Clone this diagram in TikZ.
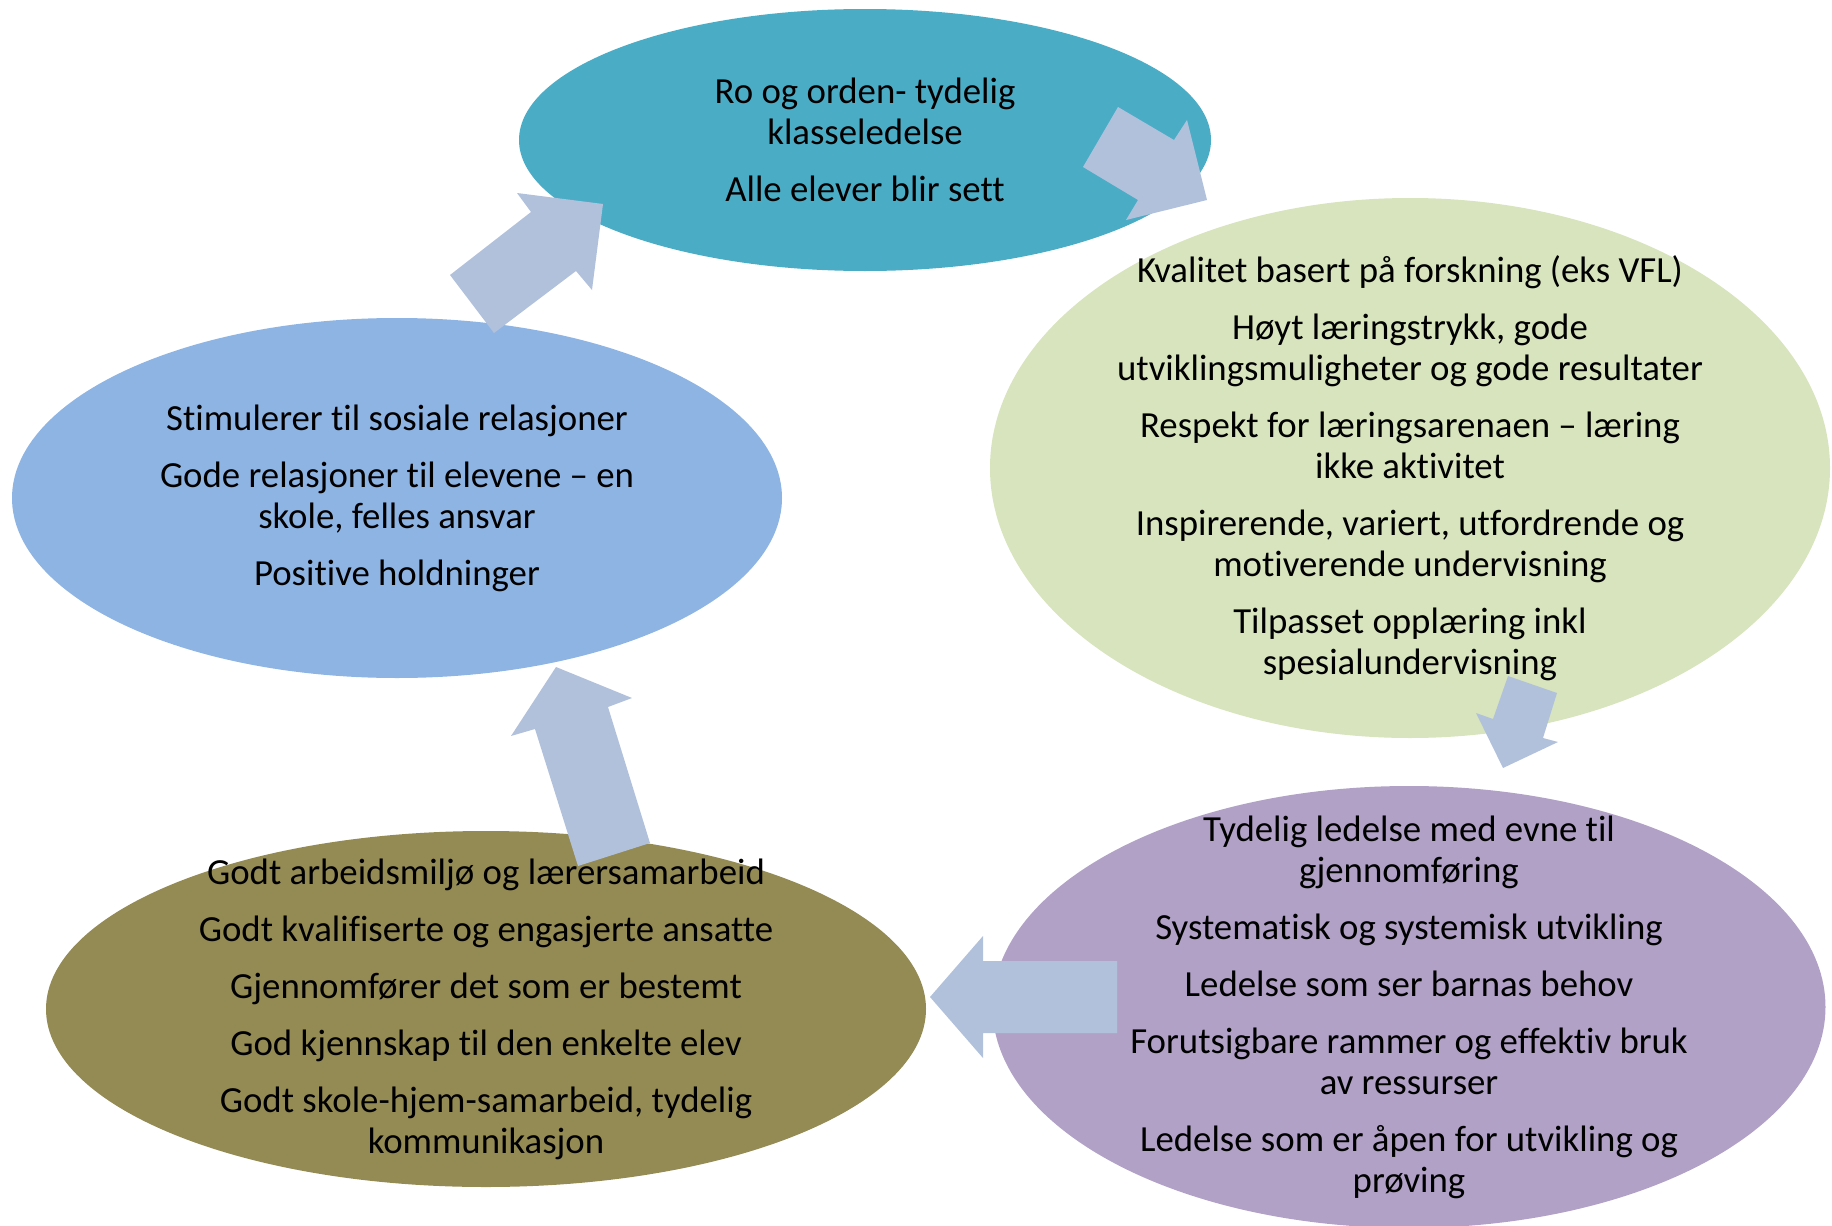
\documentclass[tikz,border=0pt]{standalone}
\usepackage{fontspec}
\setmainfont[Ligatures=NoCommon]{Carlito}
\usetikzlibrary{shapes.geometric}
\definecolor{rocol}{HTML}{4BACC6}
\definecolor{kvcol}{HTML}{D7E4BD}
\definecolor{ledcol}{HTML}{B2A1C7}
\definecolor{arbcol}{HTML}{948A54}
\definecolor{relcol}{HTML}{8EB4E3}
\definecolor{arwcol}{HTML}{B1C1DC}

\begin{document}
\begin{tikzpicture}[x=0.5pt,y=-0.5pt,
    blob/.style={ellipse,inner sep=0pt,draw=none},
    txt/.style={align=center,inner sep=0pt,font=\fontsize{18.4}{20.5}\selectfont},
    arw/.style={fill=arwcol}]
 \useasboundingbox (0,0) rectangle (1832,1226);
 \node[blob,fill=rocol,minimum width=692pt/2,minimum height=262pt/2] (RO) at (865,140) {};
 \node[blob,fill=kvcol,minimum width=840pt/2,minimum height=540pt/2] (KV) at (1410,468) {};
 \node[blob,fill=ledcol,minimum width=833pt/2,minimum height=442pt/2] (LED) at (1409,1007) {};
 \node[blob,fill=arbcol,minimum width=880pt/2,minimum height=356pt/2] (ARB) at (486,1009) {};
 \node[blob,fill=relcol,minimum width=770pt/2,minimum height=360pt/2] (REL) at (397,498) {};
 % block arrows
 \fill[arw] (450,275) -- (494,333) -- (576,271) -- (592,290) -- (603,204) -- (517,193) -- (531,212) -- cycle;
 \fill[arw] (1118,107) -- (1083,167) -- (1138,200) -- (1126,220) -- (1207,200) -- (1187,120) -- (1174,140) -- cycle;
 \fill[arw] (1508,676) -- (1557,693) -- (1543,738) -- (1558,742) -- (1503,768) -- (1476,713) -- (1493,719) -- cycle;
 \fill[arw] (1117,961) -- (1117,1033) -- (983,1033) -- (983,1058) -- (930,997) -- (983,936) -- (983,961) -- cycle;
 \fill[arw] (578,866) -- (650,843) -- (608,707) -- (632,698) -- (556,667) -- (511,736) -- (535,729) -- cycle;
 % texts
 \node[txt] (ROtxt) at (RO) {Ro og orden- tydelig\\klasseledelse\\[8pt]Alle elever blir sett};
 \node[txt] (KVtxt) at (KV) {Kvalitet basert på forskning (eks VFL)\\[8pt]
   Høyt læringstrykk, gode\\utviklingsmuligheter og gode resultater\\[8pt]
   Respekt for læringsarenaen – læring\\ikke aktivitet\\[8pt]
   Inspirerende, variert, utfordrende og\\motiverende undervisning\\[8pt]
   Tilpasset opplæring inkl\\spesialundervisning};
 \node[txt] (LEDtxt) at (LED) {Tydelig ledelse med evne til\\gjennomføring\\[8pt]
   Systematisk og systemisk utvikling\\[8pt]
   Ledelse som ser barnas behov\\[8pt]
   Forutsigbare rammer og effektiv bruk\\av ressurser\\[8pt]
   Ledelse som er åpen for utvikling og\\prøving};
 \node[txt] (ARBtxt) at (ARB) {Godt arbeidsmiljø og lærersamarbeid\\[8pt]
   Godt kvalifiserte og engasjerte ansatte\\[8pt]
   Gjennomfører det som er bestemt\\[8pt]
   God kjennskap til den enkelte elev\\[8pt]
   Godt skole-hjem-samarbeid, tydelig\\kommunikasjon};
 \node[txt] (RELtxt) at (REL) {Stimulerer til sosiale relasjoner\\[8pt]
   Gode relasjoner til elevene – en\\skole, felles ansvar\\[8pt]
   Positive holdninger};
\end{tikzpicture}
\end{document}
